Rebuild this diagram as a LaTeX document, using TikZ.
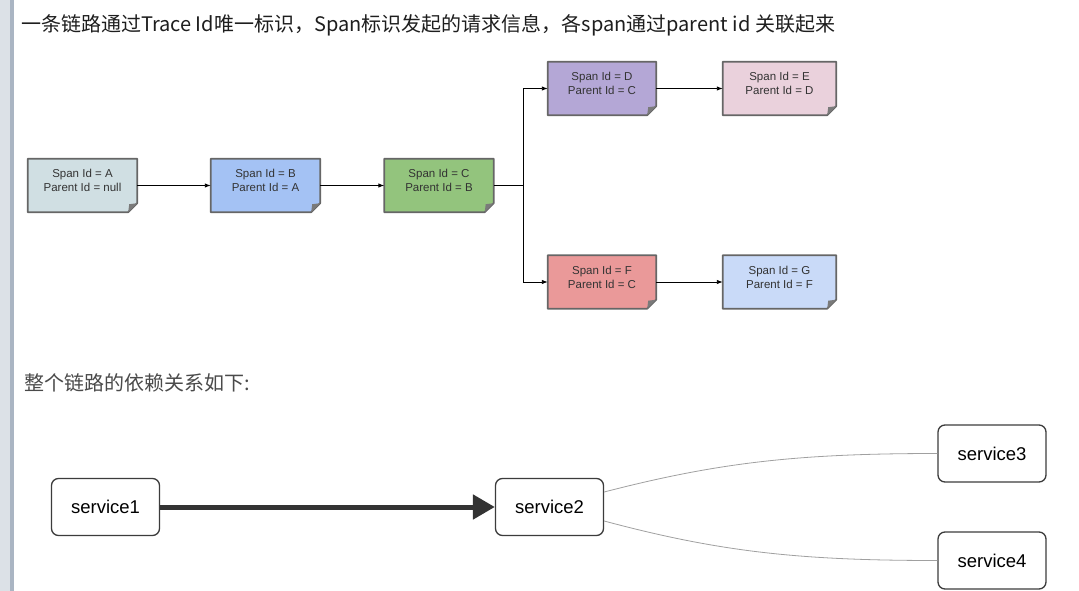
\documentclass[tikz,border=0pt]{standalone}
\usepackage{fontspec}
\setmainfont{Liberation Sans}
\newfontfamily\cjkfont{Noto Sans CJK SC}
\usetikzlibrary{arrows.meta,backgrounds}
\definecolor{boxborder}{HTML}{666666}
\definecolor{foldcol}{HTML}{7A7A7A}
\definecolor{boxtext}{HTML}{333333}
\definecolor{cA}{HTML}{D0DFE3}
\definecolor{cB}{HTML}{A4C2F4}
\definecolor{cC}{HTML}{93C47D}
\definecolor{cD}{HTML}{B4A7D6}
\definecolor{cE}{HTML}{EAD1DC}
\definecolor{cF}{HTML}{EA9999}
\definecolor{cG}{HTML}{C9DAF8}
\definecolor{svcborder}{HTML}{3C3C3C}
\definecolor{thickcol}{HTML}{333333}
\definecolor{curvecol}{HTML}{A0A0A0}
\definecolor{barlight}{HTML}{DCE1E7}
\definecolor{bardark}{HTML}{AAB5C3}
\definecolor{titlecol}{HTML}{1E1E1E}
\definecolor{subcol}{HTML}{4A4A4A}
\newcommand\foldbox[2]{%
  \filldraw[fill=#2, draw=boxborder, line width=1.8pt, line join=round]
    (#1.north west) -- (#1.north east) -- ([yshift=9pt]#1.south east)
    -- ([xshift=-9pt]#1.south east) -- (#1.south west) -- cycle;
  \fill[foldcol] ([yshift=9pt]#1.south east) -- ([xshift=-9pt]#1.south east)
    -- ([xshift=-8pt,yshift=8pt]#1.south east) -- cycle;}
\newcommand\spantext[2]{\raisebox{3.5pt}[\height][\depth]{\begin{tabular}{@{}c@{}}#1\\#2\end{tabular}}}
\tikzset{
  spanbox/.style={minimum width=109pt, minimum height=53pt, inner sep=0pt,
    align=center, font=\fontsize{11.5}{14}\selectfont, text=boxtext},
  flow/.style={line width=0.9pt, -{Latex[length=6pt,width=4.5pt]}},
  svc/.style={draw=svcborder, line width=1.3pt, rounded corners=7pt, fill=white,
    minimum width=108pt, minimum height=57pt, font=\fontsize{18.5}{22}\selectfont},
  dep/.style={draw=curvecol, line width=0.8pt},
}
\begin{document}
\begin{tikzpicture}[x=1pt,y=-1pt]
\useasboundingbox (0,0) rectangle (1079,591);

\node[anchor=west, text=titlecol, font=\cjkfont\fontsize{20}{24}\selectfont, inner sep=0pt] (title) at (21,25)
  {一条链路通过Trace Id唯一标识，Span标识发起的请求信息，各span通过parent id 关联起来};

\node[spanbox] (A) at (82.5,185.5) {\spantext{Span Id = A}{Parent Id = null}};
\node[spanbox] (B) at (265.5,185.5) {\spantext{Span Id = B}{Parent Id = A}};
\node[spanbox] (C) at (439,185.5) {\spantext{Span Id = C}{Parent Id = B}};
\node[spanbox, minimum width=108pt] (D) at (602,88.5) {\spantext{Span Id = D}{Parent Id = C}};
\node[spanbox, minimum width=113pt] (E) at (779.5,88.5) {\spantext{Span Id = E}{Parent Id = D}};
\node[spanbox, minimum width=108pt] (F) at (602,282) {\spantext{Span Id = F}{Parent Id = C}};
\node[spanbox, minimum width=113pt] (G) at (779.5,282) {\spantext{Span Id = G}{Parent Id = F}};

\begin{scope}[on background layer]
  \fill[white] (0,0) rectangle (1079,591);
  \fill[barlight] (0,0) rectangle (10,591);
  \fill[bardark] (10,0) rectangle (14,591);
  \foldbox{A}{cA}
  \foldbox{B}{cB}
  \foldbox{C}{cC}
  \foldbox{D}{cD}
  \foldbox{E}{cE}
  \foldbox{F}{cF}
  \foldbox{G}{cG}
\end{scope}

\coordinate (split) at (523,185.5);
\draw[flow] (A) -- (B);
\draw[flow] (B) -- (C);
\draw[line width=0.9pt] (C.east) -- (split);
\draw[flow] (split) |- (D.west);
\draw[flow] (split) |- (F.west);
\draw[flow] (D) -- (E);
\draw[flow] (F) -- (G);

\node[anchor=west, text=subcol, font=\cjkfont\fontsize{20}{24}\selectfont, inner sep=0pt] (sub) at (24,383)
  {整个链路的依赖关系如下:};

\node[svc] (s1) at (105.5,507) {service1};
\node[svc] (s2) at (549.5,507) {service2};
\node[svc] (s3) at (992,453.5) {service3};
\node[svc] (s4) at (992,560.5) {service4};

\draw[line width=5pt, thickcol, -{Triangle[length=22pt,width=24pt]}] (s1) -- (s2);
\draw[dep] ([yshift=15pt]s2.east) .. controls (720,462) and (800,453.5) .. (s3.west);
\draw[dep] ([yshift=-14pt]s2.east) .. controls (720,552) and (800,560.5) .. (s4.west);
\end{tikzpicture}
\end{document}
